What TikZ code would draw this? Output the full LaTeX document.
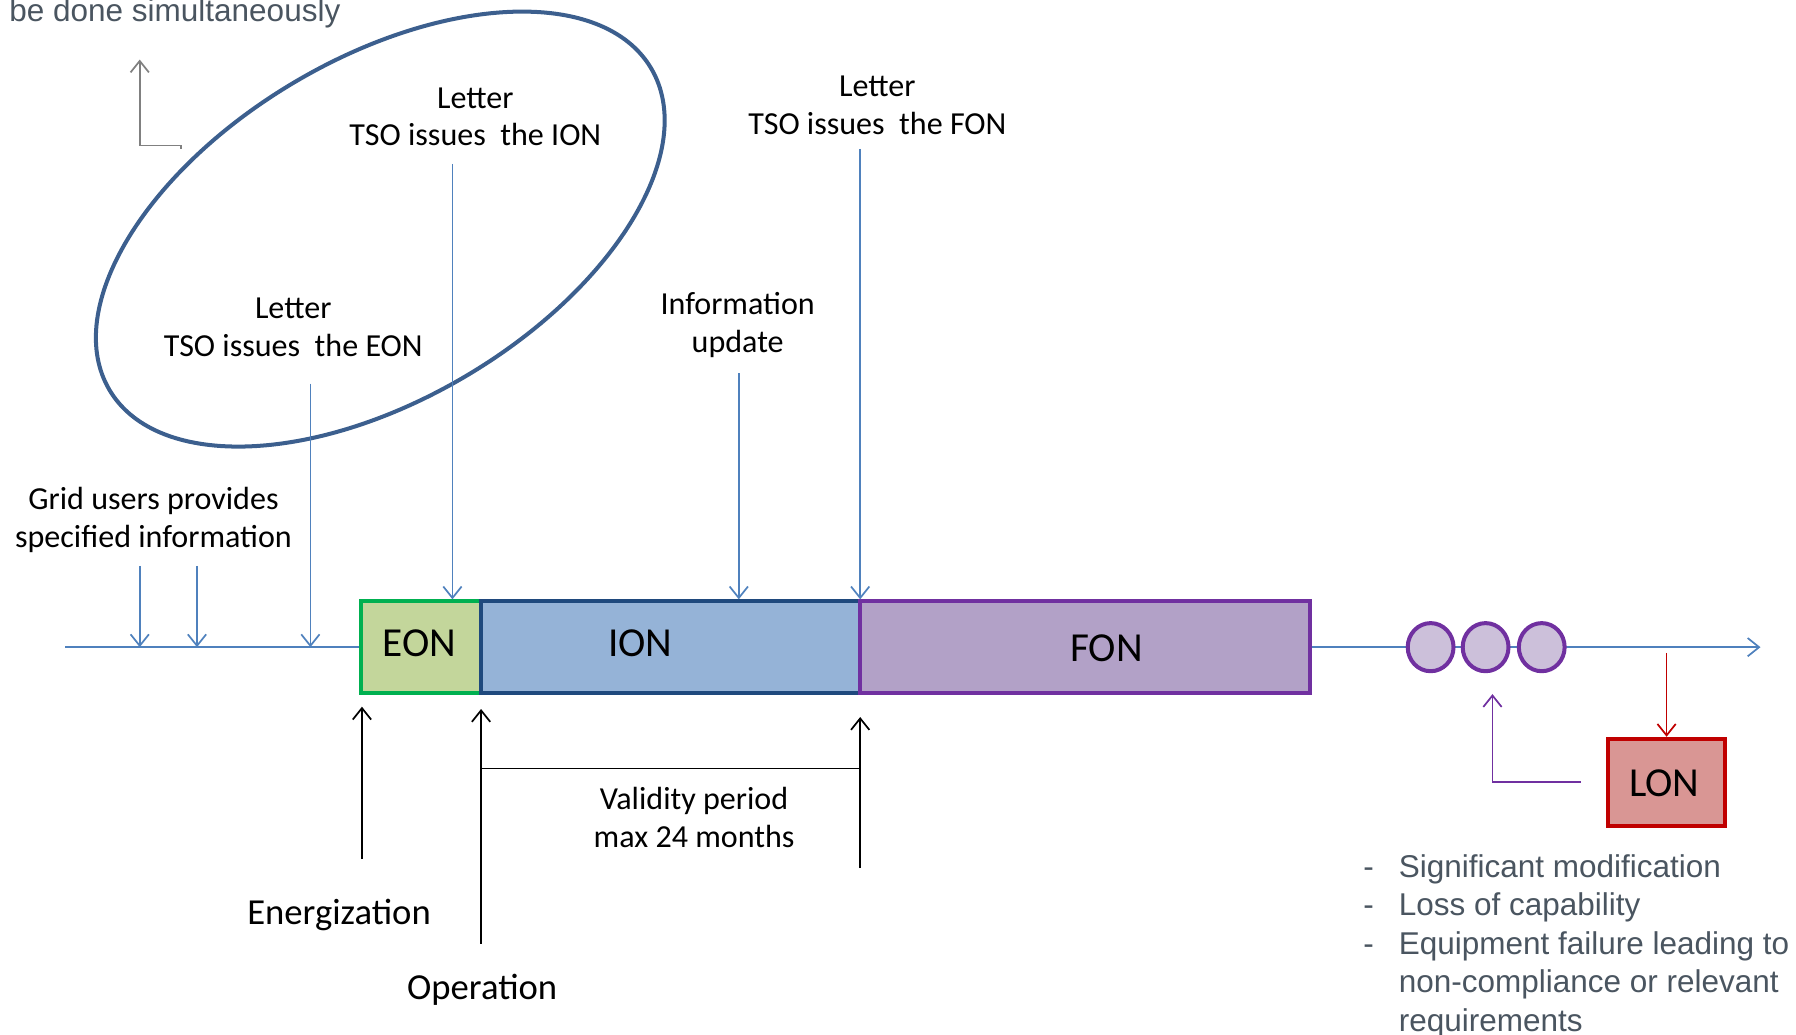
\documentclass[tikz,border=0pt]{standalone}
\usepackage{fontspec}
\setmainfont{Carlito}
\newfontfamily\arialf{Liberation Sans}
\usetikzlibrary{arrows.meta,shapes.geometric}
\definecolor{axisblue}{HTML}{4F81BD}
\definecolor{ellblue}{HTML}{3C5F8E}
\definecolor{eonfill}{HTML}{C3D69B}
\definecolor{eonline}{HTML}{00B050}
\definecolor{ionfill}{HTML}{95B3D7}
\definecolor{ionline}{HTML}{1F497D}
\definecolor{fonfill}{HTML}{B2A1C7}
\definecolor{fonline}{HTML}{7030A0}
\definecolor{dotfill}{HTML}{CCC0DA}
\definecolor{lonfill}{HTML}{D99694}
\definecolor{lonline}{HTML}{C00000}
\definecolor{greytxt}{HTML}{4A5560}
\definecolor{greyline}{HTML}{808080}
\begin{document}
\begin{tikzpicture}[x=1pt,y=-1pt,
  lbl/.style={font=\fontsize{28}{33}\selectfont, align=center, inner sep=0pt},
  biglbl/.style={font=\fontsize{32}{38}\selectfont, inner sep=0pt},
  boxlbl/.style={font=\fontsize{36}{40}\selectfont, inner sep=0pt},
  bar/.style={draw, line width=3.5pt, minimum height=80pt, inner sep=0pt},
  barb/.style={-{Straight Barb[length=10pt,width=16pt]}},
  bluearr/.style={barb, draw=axisblue, line width=1.5pt},
  blackarr/.style={barb, draw=black, line width=1.5pt},
  dot/.style={ellipse, draw=fonline, fill=dotfill, line width=3.5pt, minimum width=40pt, minimum height=42pt, inner sep=0pt},
  greytext/.style={font=\arialf\fontsize{27.5}{33.5}\selectfont, text=greytxt, inner sep=0pt, align=left}
]
\useasboundingbox (0,0) rectangle (1568,903);

% top-left grey text and L arrow
\node[greytext, anchor=base west] (simul) at (8,19) {be done simultaneously};
\coordinate (gl1) at (122,127);
\coordinate (gl2) at (122,52);
\coordinate (gl3) at (158,127);
\draw[greyline, line width=1.5pt, -{Straight Barb[length=10pt,width=16pt]}] (gl3) -- ++(0,3) -- ++(0,-3) -- (gl1) -- (gl2);

% ellipse
\draw[ellblue, line width=3.5pt, rotate around={30.75:(332,200)}] (332,200) ellipse [x radius=275pt, y radius=148.5pt];

% labels
\node[lbl] (ionletter) at (415,102) {Letter\\TSO issues~ the ION};
\node[lbl] (eonletter) at (256,286) {Letter\\TSO issues~ the EON};
\node[lbl] (fonletter) at (766,92) {Letter\\TSO issues~ the FON};
\node[lbl] (infoupd) at (644,284) {Information\\update};
\node[lbl] (gridusers) at (134,454) {Grid users provides\\specified information};
\node[lbl] (validity) at (606,714) {Validity period\\max 24 months};
\node[biglbl] (energ) at (296,799) {Energization};
\node[biglbl] (operat) at (421,864) {Operation};

% axis
\coordinate (axstart) at (57,565);
\coordinate (axend) at (1537,565);
\draw[axisblue, line width=1.5pt, -{Straight Barb[length=10pt,width=16pt]}] (axstart) -- (axend);

% bars
\node[bar, draw=eonline, fill=eonfill, minimum width=105pt] (eon) at (367.5,565) {};
\node[bar, draw=ionline, fill=ionfill, minimum width=331pt] (ion) at (585.5,565) {};
\node[bar, draw=fonline, fill=fonfill, minimum width=393pt] (fon) at (947.5,565) {};
\node[boxlbl] (eont) at (366,562) {EON};
\node[boxlbl] (iont) at (559,562) {ION};
\node[boxlbl] (font) at (966,566) {FON};

% dots
\node[dot] (d1) at (1249,565) {};
\node[dot] (d2) at (1297,565) {};
\node[dot] (d3) at (1346,565) {};

% LON
\node[bar, draw=lonline, fill=lonfill, minimum width=102pt, minimum height=76pt] (lon) at (1455,683) {};
\node[boxlbl] (lont) at (1453,684) {LON};

% blue arrows
\coordinate (g1) at (122,494);
\coordinate (g2) at (172,494);
\coordinate (g3) at (271,335);
\coordinate (g4) at (395,143);
\coordinate (g5) at (645,326);
\coordinate (g6) at (751,130);
\draw[bluearr] (g1) -- (g1 |- axstart);
\draw[bluearr] (g2) -- (g2 |- axstart);
\draw[bluearr] (g3) -- (g3 |- axstart);
\draw[bluearr] (g4) -- (g4 |- eon.north);
\draw[bluearr] (g5) -- (g5 |- ion.north);
\draw[bluearr] (g6) -- (g6 |- fon.north);

% black arrows
\coordinate (b1) at (316,750);
\coordinate (b1t) at (316,617);
\coordinate (b2) at (420,824);
\coordinate (b2t) at (420,619);
\coordinate (b3) at (751,758);
\coordinate (b3t) at (751,626);
\draw[blackarr] (b1) -- (b1t);
\draw[blackarr] (b2) -- (b2t);
\draw[blackarr] (b3) -- (b3t);
\draw[black, line width=1.5pt] (b2 |- 0,671) -- (b3 |- 0,671);

% purple L arrow
\coordinate (p1) at (1380,683);
\coordinate (p2) at (1303,606);
\draw[fonline, line width=1.5pt, -{Straight Barb[length=10pt,width=16pt]}] (p1) -| (p2);

% red arrow
\coordinate (r1) at (1455,570);
\draw[lonline, line width=1.5pt, -{Straight Barb[length=10pt,width=16pt]}] (r1) -- (lon.north);

% bullet list
\node[greytext, anchor=north west] (bullets) at (1190,746) {\makebox[31pt][l]{-}Significant modification\\\makebox[31pt][l]{-}Loss of capability\\\makebox[31pt][l]{-}Equipment failure leading to\\\hspace*{31pt}non-compliance or relevant\\\hspace*{31pt}requirements};
\end{tikzpicture}
\end{document}
